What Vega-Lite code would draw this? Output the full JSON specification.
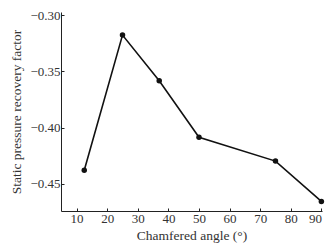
{
  "$schema": "https://vega.github.io/schema/vega-lite/v6.json",
  "width": 261,
  "height": 199,
  "autosize": "none",
  "padding": {"left": 61, "top": 12, "right": 9, "bottom": 40},
  "background": "white",
  "config": {
    "view": {"stroke": null},
    "font": "Liberation Serif",
    "axis": {
      "grid": false,
      "domainColor": "#222",
      "tickColor": "#222",
      "tickSize": -3,
      "labelOverlap": false,
      "labelFont": "Liberation Serif",
      "titleFont": "Liberation Serif",
      "labelFontSize": 13,
      "titleFontSize": 13.5,
      "labelColor": "#333",
      "titleColor": "#333",
      "titleFontWeight": "normal"
    }
  },
  "data": {
    "values": [
      {"angle": 12.5, "factor": -0.4378},
      {"angle": 25, "factor": -0.3178},
      {"angle": 37, "factor": -0.3583},
      {"angle": 50, "factor": -0.4085},
      {"angle": 75, "factor": -0.4297},
      {"angle": 90, "factor": -0.4655}
    ]
  },
  "encoding": {
    "x": {
      "field": "angle",
      "type": "quantitative",
      "scale": {"domain": [4.9, 90.2], "nice": false, "zero": false},
      "axis": {
        "values": [10, 20, 30, 40, 50, 60, 70, 80, 90],
        "title": "Chamfered angle (°)",
        "labelPadding": 4,
        "titlePadding": 3
      }
    },
    "y": {
      "field": "factor",
      "type": "quantitative",
      "scale": {"domain": [-0.474, -0.2973], "nice": false, "zero": false},
      "axis": {
        "values": [-0.30, -0.35, -0.40, -0.45],
        "format": ".2f",
        "labelExpr": "replace(datum.label, '-', '\u2212')",
        "title": "Static pressure recovery factor",
        "labelPadding": 4,
        "titlePadding": 6
      }
    }
  },
  "layer": [
    {"mark": {"type": "line", "color": "#111", "strokeWidth": 1.6}},
    {"mark": {"type": "point", "filled": true, "color": "#111", "size": 30, "opacity": 1}}
  ]
}
